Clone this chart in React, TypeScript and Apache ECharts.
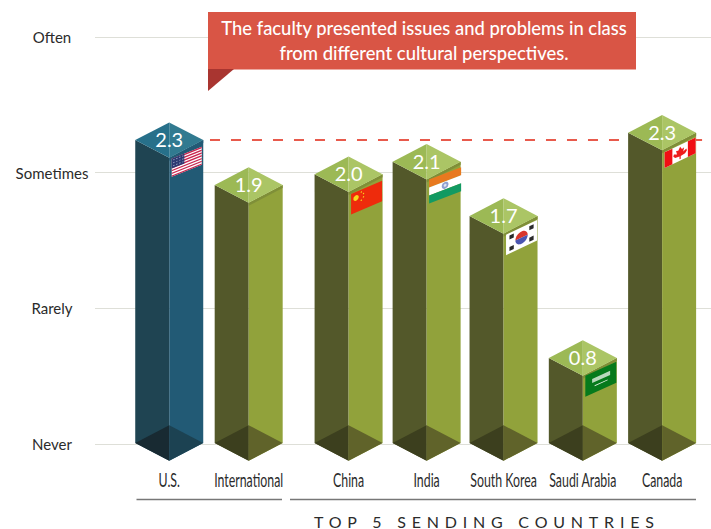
import React, { useEffect, useRef } from "react";
import * as echarts from "echarts";

const categories = ["U.S.", "International", "China", "India", "South Korea", "Saudi Arabia", "Canada"];
const valueLabels = ["2.3", "1.9", "2.0", "2.1", "1.7", "0.8", "2.3"];
const barLevels = [2.24, 1.909, 1.988, 2.081, 1.681, 0.634, 2.295];
const barSlots = [0.94, 1.946, 3.211, 4.199, 5.173, 6.177, 7.181];
const flagCodes = ["us", "", "cn", "in", "kr", "sa", "ca"];
const yTicks = ["Never", "Rarely", "Sometimes", "Often"];
const dashLevel = 2.24;
const dashSlots = [1.456, 7.687];
const titleLines = ["The faculty presented issues and problems in class", "from different cultural perspectives."];
const groupTitle = "TOP 5 SENDING COUNTRIES";

const HW = 34;
const HH = 17.7;
const BODY = "Lato, 'Open Sans', sans-serif";

const olive = { l: "#53582a", r: "#91a23b", tl: "#9cb955", tr: "#abc565", bl: "#3c3f1e", br: "#60632a", s: "#7f8f38" };
const blue = { l: "#1f4452", r: "#225a75", tl: "#27708a", tr: "#317a90", bl: "#182a32", br: "#1c4252", s: "#225a75" };

const flagBoxes: Record<string, { dy: number; w: number; h: number; s: number }> = {
  us: { dy: 1, w: 30, h: 18, s: 0.4 },
  cn: { dy: 2, w: 31, h: 20.5, s: 0.43 },
  in: { dy: 0, w: 32, h: 24, s: 0.38 },
  kr: { dy: 1, w: 31, h: 20.5, s: 0.47 },
  sa: { dy: 0, w: 31, h: 21, s: 0.45 },
  ca: { dy: 2, w: 31, h: 15.7, s: 0.48 },
};

type Pt = [number, number];

function flagShapes(code: string, cx: number, frontY: number) {
  const b = flagBoxes[code];
  const x0 = cx + 2.5;
  const y0 = frontY + b.dy;
  const P = (u: number, v: number): Pt => [x0 + u * b.w, y0 - u * b.w * b.s + v * b.h];
  const out: any[] = [];
  const quad = (u0: number, v0: number, u1: number, v1: number, fill: string) =>
    out.push({ type: "polygon", shape: { points: [P(u0, v0), P(u1, v0), P(u1, v1), P(u0, v1)] }, style: { fill } });
  const disc = (u: number, v: number, r: number, fill: string, a0 = 0, a1 = Math.PI * 2) => {
    const pts: Pt[] = [];
    for (let i = 0; i <= 20; i++) {
      const a = a0 + ((a1 - a0) * i) / 20;
      pts.push(P(u + (r * Math.cos(a) * b.h) / b.w, v + r * Math.sin(a)));
    }
    out.push({ type: "polygon", shape: { points: pts }, style: { fill } });
  };
  if (code === "us") {
    quad(0, 0, 1, 1, "#ffffff");
    for (let i = 0; i < 13; i += 2) quad(0, i / 13, 1, (i + 1) / 13, "#c8254f");
    quad(0, 0, 0.42, 7 / 13, "#2c3a72");
    for (let i = 0; i < 4; i++) for (let j = 0; j < 3; j++) quad(0.05 + i * 0.1, 0.07 + j * 0.16, 0.09 + i * 0.1, 0.12 + j * 0.16, "#aab0cf");
  } else if (code === "cn") {
    quad(0, 0, 1, 1, "#ee2b0c");
    disc(0.16, 0.3, 0.13, "#f8d81c");
    disc(0.33, 0.12, 0.035, "#f8d81c");
    disc(0.4, 0.24, 0.035, "#f8d81c");
    disc(0.4, 0.4, 0.035, "#f8d81c");
    disc(0.33, 0.52, 0.035, "#f8d81c");
  } else if (code === "in") {
    quad(0, 0, 1, 1 / 3, "#e8791f");
    quad(0, 1 / 3, 1, 2 / 3, "#ffffff");
    quad(0, 2 / 3, 1, 1, "#129a62");
    disc(0.5, 0.5, 0.14, "#8f9fd0");
    disc(0.5, 0.5, 0.06, "#dfe4f2");
  } else if (code === "kr") {
    quad(0, 0, 1, 1, "#ffffff");
    disc(0.5, 0.5, 0.3, "#d8362c", Math.PI, Math.PI * 2);
    disc(0.5, 0.5, 0.3, "#4a55b0", 0, Math.PI);
    for (const [u, v] of [[0.18, 0.22], [0.82, 0.22], [0.18, 0.78], [0.82, 0.78]]) quad(u - 0.07, v - 0.1, u + 0.07, v + 0.1, "#2a2a2a");
  } else if (code === "sa") {
    quad(0, 0, 1, 1, "#067a1c");
    quad(0.22, 0.3, 0.8, 0.5, "#b8d8bc");
    quad(0.3, 0.66, 0.72, 0.7, "#e4f0e4");
  } else if (code === "ca") {
    quad(0, 0, 1, 1, "#ffffff");
    quad(0, 0, 0.25, 1, "#f00f14");
    quad(0.75, 0, 1, 1, "#f00f14");
    const leaf: Pt[] = [
      [0.5, 0.12], [0.56, 0.32], [0.63, 0.27], [0.6, 0.52], [0.7, 0.42], [0.72, 0.55], [0.66, 0.68],
      [0.52, 0.72], [0.52, 0.9], [0.48, 0.9], [0.48, 0.72], [0.34, 0.68], [0.28, 0.55], [0.3, 0.42], [0.4, 0.52], [0.37, 0.27], [0.44, 0.32],
    ];
    out.push({ type: "polygon", shape: { points: leaf.map(([u, v]) => P(u, v)) }, style: { fill: "#ee1c1c" } });
  }
  return out;
}

function renderBar(params: any, api: any) {
  const i = params.dataIndex;
  const [cx, top] = api.coord([api.value(0), api.value(1)]);
  const [, axisY] = api.coord([api.value(0), 0]);
  const base = axisY - 1;
  const c = i === 0 ? blue : olive;
  const poly = (points: Pt[], fill: string) => ({ type: "polygon", shape: { points }, style: { fill } });
  const L = cx - HW;
  const R = cx + HW;
  const children: any[] = [
    poly([[L, top], [cx, top + HH], [cx, base + HH], [L, base]], c.l),
    poly([[R, top], [cx, top + HH], [cx, base + HH], [R, base]], c.r),
    poly([[L, base], [cx, base - HH], [cx, base + HH]], c.bl),
    poly([[R, base], [cx, base - HH], [cx, base + HH]], c.br),
    poly([[cx, top + HH], [R, top], [R, top + 3], [cx, top + HH + 3]], c.s),
    poly([[L, top], [cx, top - HH], [cx, top + HH]], c.tl),
    poly([[R, top], [cx, top - HH], [cx, top + HH]], c.tr),
  ];
  if (flagCodes[i]) children.push(...flagShapes(flagCodes[i], cx, top + HH));
  children.push({
    type: "text",
    x: cx,
    y: top - 1,
    style: {
      text: valueLabels[i],
      fill: "#ffffff",
      font: `20px ${BODY}`,
      align: "center",
      verticalAlign: "middle",
      textAlign: "center",
      textVerticalAlign: "middle",
    },
  });
  children.push({
    type: "text",
    x: cx,
    y: base + 36,
    scaleX: 0.65,
    style: {
      text: categories[i],
      fill: "#2b2b2b",
      font: `19px ${BODY}`,
      align: "center",
      verticalAlign: "middle",
      textAlign: "center",
      textVerticalAlign: "middle",
    },
  });
  return { type: "group", children };
}

export default function App() {
  const ref = useRef<HTMLDivElement>(null);
  useEffect(() => {
    document.body.style.margin = "0";
    const chart = echarts.init(ref.current!, undefined, { renderer: "svg" });
    chart.setOption({
      animation: false,
      backgroundColor: "#ffffff",
      grid: { left: 95, right: 0, top: 37, bottom: 85 },
      xAxis: {
        type: "value",
        min: 0,
        max: 7.8,
        axisLine: { show: false },
        axisTick: { show: false },
        splitLine: { show: false },
        axisLabel: { show: false },
      },
      yAxis: {
        type: "value",
        min: 0,
        max: 3,
        interval: 1,
        axisLine: { show: false },
        axisTick: { show: false },
        splitLine: { lineStyle: { color: "#dedfd8", width: 1 } },
        axisLabel: {
          formatter: (v: number) => yTicks[v] ?? "",
          align: "center",
          margin: 43,
          padding: [0, 0, 2, 0],
          fontFamily: BODY,
          fontSize: 15,
          color: "#2b2b2b",
        },
      },
      series: [
        {
          type: "line",
          z: 1,
          silent: true,
          symbol: "none",
          data: dashSlots.map((x) => [x, dashLevel]),
          lineStyle: { color: "#e85a4c", width: 2, type: [10, 11] },
        },
        {
          type: "custom",
          z: 3,
          clip: false,
          silent: true,
          encode: { x: 0, y: 1 },
          data: barSlots.map((x, i) => [x, barLevels[i]]),
          renderItem: renderBar,
        },
      ],
      graphic: [
        { type: "rect", z: 100, shape: { x: 208, y: 12, width: 428, height: 57.5 }, style: { fill: "#d95545" } },
        { type: "polygon", z: 100, shape: { points: [[208, 69], [234, 69], [208, 91]] }, style: { fill: "#a93530" } },
        ...titleLines.map((t, i) => ({
          type: "text",
          z: 101,
          x: 424,
          y: 27.5 + i * 25,
          style: { text: t, fill: "#ffffff", font: `500 18.4px ${BODY}`, align: "center", verticalAlign: "middle" },
        })),
        { type: "line", z: 100, shape: { x1: 136.5, y1: 499.5, x2: 282, y2: 499.5 }, style: { stroke: "#777777", lineWidth: 1.5 } },
        { type: "line", z: 100, shape: { x1: 290, y1: 499.5, x2: 696, y2: 499.5 }, style: { stroke: "#777777", lineWidth: 1.5 } },
        {
          type: "text",
          z: 101,
          x: 314,
          y: 521,
          style: { text: groupTitle, fill: "#2b2b2b", font: `16px ${BODY}`, align: "left", verticalAlign: "middle" },
        },
      ],
    });
    ref.current!.querySelectorAll("text").forEach((t) => {
      if (t.textContent === groupTitle) (t as SVGTextElement).style.letterSpacing = "5.8px";
    });
    return () => chart.dispose();
  }, []);
  return <div ref={ref} style={{ position: "fixed", left: 0, top: 0, width: 711, height: 529 }} />;
}
